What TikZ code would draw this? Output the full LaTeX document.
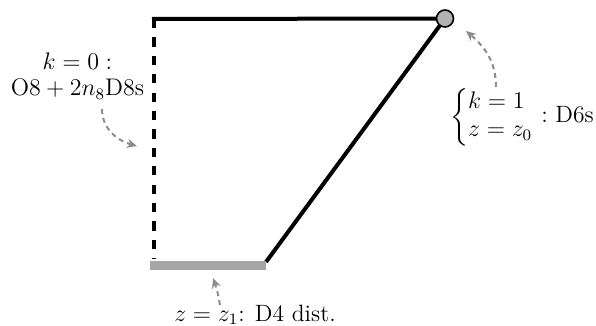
\documentclass[tikz,border=0pt]{standalone}
\usepackage{amsmath}
\usetikzlibrary{arrows.meta}
\usetikzlibrary{positioning}

\begin{document}
\begin{tikzpicture}[x=0.5pt,y=-0.5pt,
        edge/.style={line width=2pt, black},
        pointer/.style={-{Stealth[length=5pt,width=4.5pt]}, gray!90, line width=1pt, dash pattern=on 2.5pt off 2pt},
        lbl/.style={inner sep=0pt, align=center, font=\fontsize{11.8}{14}\selectfont}]
        \useasboundingbox (0,0) rectangle (596,326);

        \coordinate (tl) at (154,19);
        \coordinate (tlcap) at (152,19);
        \coordinate (bl) at (154,259);
        \coordinate (br) at (266,262);
        \coordinate (barl) at (150,265.5);
        \coordinate (barr) at (266,265.5);
        \coordinate (dotc) at (445,18.5);

        \draw[edge] (tlcap) -- (dotc);
        \draw[edge, dash pattern=on 4.6pt off 4.6pt] (tl) -- (bl);
        \draw[edge] (br) -- (dotc);
        \draw[gray!70, line width=4.6pt] (barl) -- (barr);
        % redraw dot over lines
        \node[circle, draw, fill=gray!60, line width=0.8pt, minimum size=8.5pt, inner sep=0pt] (dot) at (dotc) {};

        \node[lbl] (zero) at (77.5,76) {$k=0:$\\[-1pt] $\mathrm{O8}+2n_8\mathrm{D8s}$};
        \node[lbl] (one) at (522,117) {$\left\{\begin{array}{@{}l@{}} k=1\\ z=z_0 \end{array}\right. :$ D6s};
        \node[lbl] (dfour) at (255,315) {$z=z_1$: D4 dist.};

        %% pointers
        \coordinate (zerotail) at (102,109);
        \coordinate (zerotip) at (137,146);
        \coordinate (onetail) at (496,87);
        \coordinate (onetip) at (466,31);
        \coordinate (dfourtail) at (220,305);
        \coordinate (dfourtip) at (213,278);

        \draw[pointer] (zerotail) to[out=-90,in=165] (zerotip);
        \draw[pointer] (onetail) to[out=90,in=-40] (onetip);
        \draw[pointer] (dfourtail) to[out=100,in=-70] (dfourtip);
\end{tikzpicture}
\end{document}
